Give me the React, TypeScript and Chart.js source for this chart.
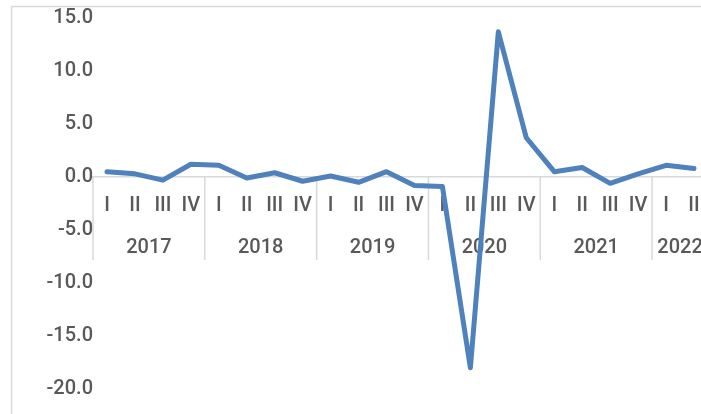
import React, { useEffect, useRef } from 'react';
import { Chart, registerables } from 'chart.js';

Chart.register(...registerables);

const years = ['2017', '2018', '2019', '2020', '2021', '2022'];
const quarterLabels = [
  'I', 'II', 'III', 'IV',
  'I', 'II', 'III', 'IV',
  'I', 'II', 'III', 'IV',
  'I', 'II', 'III', 'IV',
  'I', 'II', 'III', 'IV',
  'I', 'II',
];
const values = [
  0.5, 0.3, -0.3, 1.2,
  1.1, -0.1, 0.4, -0.4,
  0.1, -0.5, 0.5, -0.8,
  -0.9, -18.0, 13.7, 3.7,
  0.5, 0.9, -0.6, 0.3,
  1.1, 0.8,
];
const yMin = -20;
const yMax = 15;
const yStep = 5;

const FONT = 'Roboto';
const FONT_SIZE = 20;
const FONT_WEIGHT = '500';
const TEXT = '#595959';
const GRID = '#d9d9d9';

const groupPlugin = {
  id: 'groupAxis',
  beforeDraw(chart: any) {
    const ctx = chart.ctx;
    ctx.save();
    ctx.strokeStyle = GRID;
    ctx.lineWidth = 1.5;
    ctx.beginPath();
    ctx.moveTo(11.5, chart.height);
    ctx.lineTo(11.5, 6.5);
    ctx.lineTo(chart.width, 6.5);
    ctx.stroke();
    ctx.restore();
  },
  beforeDatasetsDraw(chart: any) {
    const ctx = chart.ctx;
    const xs = chart.scales.x;
    const ys = chart.scales.y;
    const y0 = ys.getPixelForValue(0);
    const half = (xs.getPixelForValue(1) - xs.getPixelForValue(0)) / 2;
    ctx.save();
    ctx.strokeStyle = GRID;
    ctx.lineWidth = 1.5;
    ctx.fillStyle = TEXT;
    ctx.font = `${FONT_WEIGHT} ${FONT_SIZE}px "${FONT}"`;
    ctx.textAlign = 'center';
    ctx.textBaseline = 'middle';
    years.forEach((yr, g) => {
      const first = g * 4;
      const last = Math.min(first + 3, quarterLabels.length - 1);
      const left = xs.getPixelForValue(first) - half;
      const right = xs.getPixelForValue(last) + half;
      ctx.beginPath();
      ctx.moveTo(left, y0);
      ctx.lineTo(left, y0 + 83);
      if (last === quarterLabels.length - 1) {
        ctx.moveTo(right, y0);
        ctx.lineTo(right, y0 + 83);
      }
      ctx.stroke();
      ctx.fillText(yr, (left + right) / 2, y0 + 71);
    });
    ctx.restore();
  },
};

export default function App() {
  const ref = useRef<HTMLCanvasElement | null>(null);
  useEffect(() => {
    if (!ref.current) return;
    const chart = new Chart(ref.current, {
      type: 'line',
      data: {
        labels: quarterLabels,
        datasets: [
          {
            data: values,
            borderColor: '#4f81bd',
            borderWidth: 5,
            pointRadius: 0,
            borderJoinStyle: 'round',
            borderCapStyle: 'round',
            tension: 0,
            fill: false,
          },
        ],
      },
      options: {
        responsive: false,
        animation: false,
        devicePixelRatio: 1,
        layout: { padding: { left: 21, top: 18, right: 12, bottom: 25 } },
        plugins: { legend: { display: false }, tooltip: { enabled: false } },
        scales: {
          x: {
            type: 'category',
            offset: true,
            position: { y: 0 },
            grid: { color: 'transparent', drawTicks: false },
            border: { display: true, color: GRID, width: 1.5 },
            ticks: {
              autoSkip: false,
              maxRotation: 0,
              minRotation: 0,
              padding: 17,
              color: TEXT,
              font: { family: FONT, size: FONT_SIZE, weight: FONT_WEIGHT },
            },
          },
          y: {
            min: yMin,
            max: yMax,
            grid: { display: false, drawTicks: false },
            border: { display: false },
            ticks: {
              stepSize: yStep,
              padding: 0,
              color: TEXT,
              font: { family: FONT, size: FONT_SIZE, weight: FONT_WEIGHT },
              callback: (v: any) => Number(v).toFixed(1),
            },
            afterFit: (scale: any) => {
              scale.width = 72;
            },
          },
        },
      },
      plugins: [groupPlugin],
    });
    return () => chart.destroy();
  }, []);
  return (
    <div
      style={{
        position: 'fixed',
        left: 0,
        top: 0,
        width: 701,
        height: 414,
        overflow: 'hidden',
        background: '#fff',
      }}
    >
      <canvas ref={ref} width={720} height={414} style={{ display: 'block' }} />
    </div>
  );
}
